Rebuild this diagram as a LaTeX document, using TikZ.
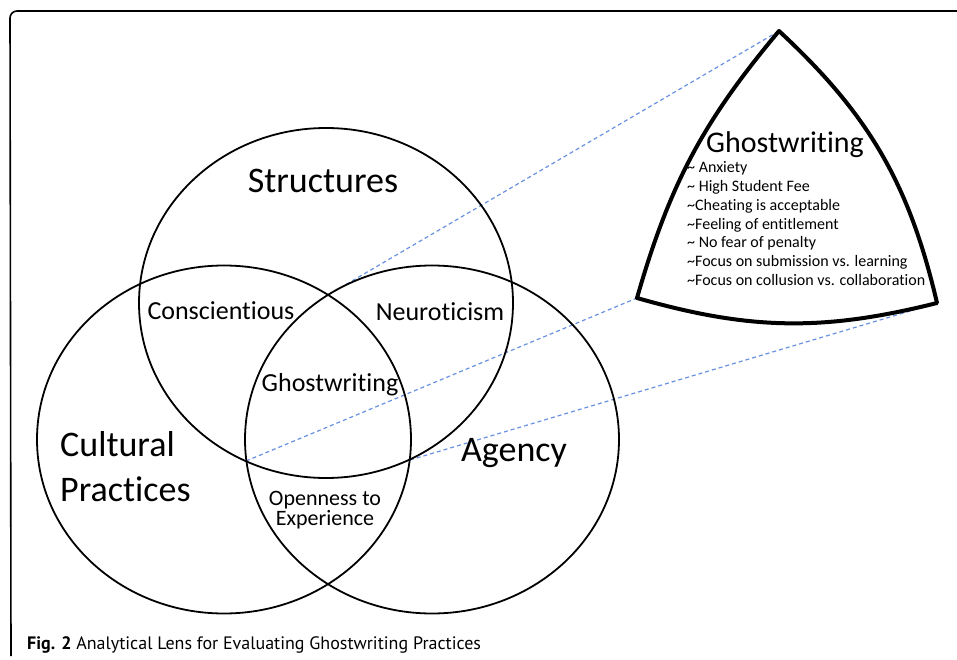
\documentclass[tikz,border=0pt]{standalone}
\usepackage{fontspec}
\setmainfont{Carlito}[Ligatures=NoCommon]
\newfontfamily\capfont{PT Sans}
\usetikzlibrary{shapes.geometric}
\definecolor{linkblue}{RGB}{105,145,225}
\begin{document}
\begin{tikzpicture}[x=1pt,y=-1pt,
  venn/.style={ellipse, draw, line width=1.8pt, minimum width=374pt, inner sep=0pt},
  big/.style={font=\fontsize{36}{40}\selectfont, inner sep=0pt},
  mid/.style={font=\fontsize{26}{30}\selectfont, inner sep=0pt},
  small/.style={font=\fontsize{22}{24}\selectfont, inner sep=0pt},
  item/.style={font=\fontsize{16}{18}\selectfont, inner sep=0pt, anchor=base west},
  link/.style={draw=linkblue, line width=1.2pt, dash pattern=on 4pt off 3pt},
  lens/.style={draw, line width=4pt, fill=white, line join=round}]
\useasboundingbox (0,0) rectangle (957,660);
% frame
\draw[line width=1.6pt, rounded corners=7pt] (11,656) -- (10,11) -- (960,11);
% intersection points and lens corners
\coordinate (ca) at (328,295);
\coordinate (sa) at (246,461);
\coordinate (sc) at (410,460);
\coordinate (T) at (779,31);
\coordinate (BL) at (637,298);
\coordinate (BR) at (937,303);
% links
\draw[link] (ca) -- (T);
\draw[link] (sa) -- (BL);
\draw[link] (sc) -- (BR);
% circles
\node[venn, minimum height=350pt] (S) at (326,303) {};
\node[venn, minimum height=348pt] (C) at (224,439.5) {};
\node[venn, minimum height=348pt] (A) at (432,439.5) {};
% labels
\node[big, anchor=base] (lS) at (323,193) {Structures};
\node[big, anchor=base west] (lC1) at (60,456) {Cultural};
\node[big, anchor=base west] (lC2) at (60,501) {Practices};
\node[big, anchor=base] (lA) at (514,461) {Agency};
\node[mid, anchor=base] (lSC) at (221,319) {Conscientious};
\node[mid, anchor=base] (lSA) at (440,320) {Neuroticism};
\node[mid, anchor=base] (lG) at (330,391) {Ghostwriting};
\node[small, anchor=base] (lO1) at (325,505) {Openness to};
\node[small, anchor=base] (lO2) at (325,525) {Experience};
% lens
\draw[lens] (T) to[bend right=12] (BL) to[bend right=15] (BR) to[bend right=17] (T) -- cycle;
\node[font=\fontsize{30}{34}\selectfont, inner sep=0pt, anchor=base] (gt) at (785,153) {Ghostwriting};
\node[item] (i1) at (687,173) {\textasciitilde{} Anxiety};
\node[item] (i2) at (687,191.7) {\textasciitilde{} High Student Fee};
\node[item] (i3) at (687,210.4) {\textasciitilde Cheating is acceptable};
\node[item] (i4) at (687,229.1) {\textasciitilde Feeling of entitlement};
\node[item] (i5) at (687,247.8) {\textasciitilde{} No fear of penalty};
\node[item] (i6) at (687,266.5) {\textasciitilde Focus on submission vs. learning};
\node[item] (i7) at (687,285.2) {\textasciitilde Focus on collusion vs. collaboration};
% caption
\node[anchor=base west, inner sep=0pt, font=\capfont\fontsize{18}{22}\selectfont] (cap) at (27,649) {\textbf{Fig. 2} Analytical Lens for Evaluating Ghostwriting Practices};
\end{tikzpicture}
\end{document}
